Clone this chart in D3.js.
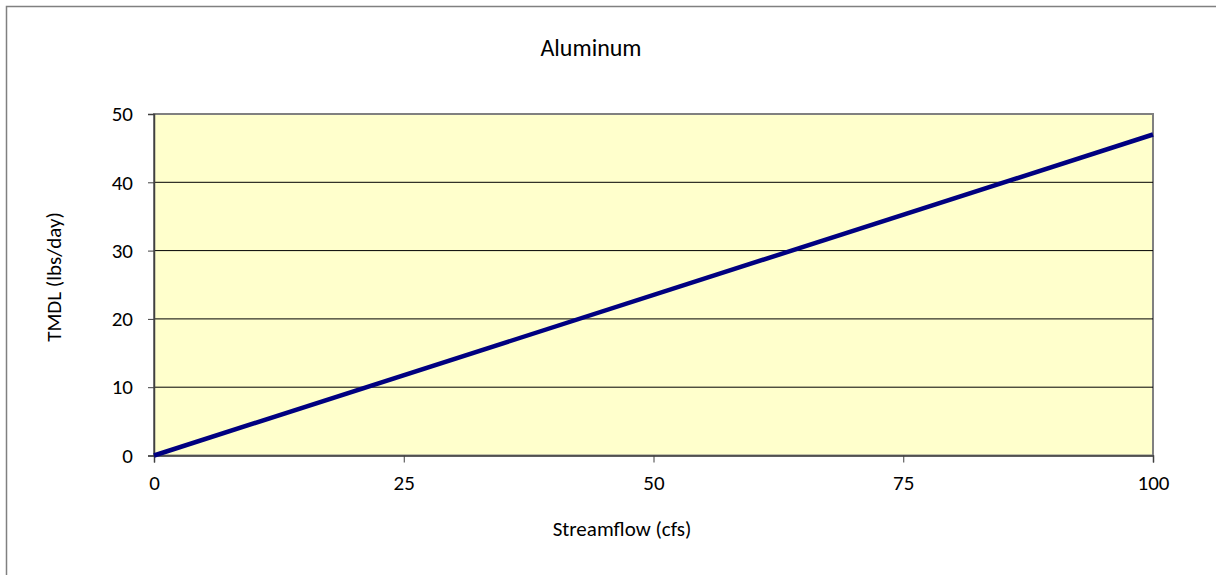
<!DOCTYPE html>
<html>
<head>
<meta charset="utf-8">
<script src="https://cdn.jsdelivr.net/npm/d3@7"></script>
<style>
  body { margin: 0; background: #fff; }
  text { font-family: Carlito, "Open Sans", "Noto Sans", sans-serif; fill: #000; }
</style>
</head>
<body>
<svg width="1216" height="575"></svg>
<script>
// chart data
var flow = [0, 100];
var tmdl = [0, 47];
var xTicks = [0, 25, 50, 75, 100];
var yTicks = [0, 10, 20, 30, 40, 50];

var svg = d3.select("svg");

// outer chart frame (right/bottom edge cropped off in the original)
svg.append("rect")
  .attr("x", 6.5).attr("y", 6.5)
  .attr("width", 1230).attr("height", 600)
  .attr("fill", "#fff")
  .attr("stroke", "#808080")
  .attr("stroke-width", 1.5);

var pLeft = 154, pRight = 1153, pTop = 114, pBottom = 455.5;

var x = d3.scaleLinear().domain([0, 100]).range([pLeft, pRight]);
var y = d3.scaleLinear().domain([0, 50]).range([pBottom, pTop]);

// plot background
svg.append("rect")
  .attr("x", pLeft).attr("y", pTop)
  .attr("width", pRight - pLeft).attr("height", pBottom - pTop)
  .attr("fill", "#ffffcc")
  .attr("stroke", "#808080")
  .attr("stroke-width", 2);

// gridlines
svg.append("g")
  .selectAll("line")
  .data(yTicks.filter(d => d > 0 && d < 50))
  .enter()
  .append("line")
  .attr("x1", pLeft).attr("x2", pRight)
  .attr("y1", d => y(d)).attr("y2", d => y(d))
  .attr("stroke", "#000")
  .attr("stroke-width", 1);

// axes
var yAxis = svg.append("g")
  .attr("transform", "translate(" + pLeft + ",0)")
  .call(d3.axisLeft(y).tickValues(yTicks).tickSize(6).tickPadding(15));
var xAxis = svg.append("g")
  .attr("transform", "translate(0," + pBottom + ")")
  .call(d3.axisBottom(x).tickValues(xTicks).tickSize(7).tickPadding(13));

[yAxis, xAxis].forEach(function (a) {
  a.attr("font-size", 21).attr("font-family", null);
  a.select(".domain").attr("stroke", "#404040").attr("stroke-width", 1.5);
  a.selectAll(".tick line").attr("stroke", "#404040");
  a.selectAll(".tick text").attr("fill", "#000");
});

// series line
var line = d3.line()
  .x((d, i) => x(flow[i]))
  .y(d => y(d));

svg.append("path")
  .datum(tmdl)
  .attr("d", line)
  .attr("fill", "none")
  .attr("stroke", "#000080")
  .attr("stroke-width", 4.5);

// titles
svg.append("text")
  .attr("x", 591).attr("y", 56)
  .attr("text-anchor", "middle")
  .attr("font-size", "24px")
  .text("Aluminum");

svg.append("text")
  .attr("x", 622).attr("y", 536)
  .attr("text-anchor", "middle")
  .attr("font-size", "21px")
  .text("Streamflow (cfs)");

svg.append("text")
  .attr("transform", "translate(61,277) rotate(-90)")
  .attr("text-anchor", "middle")
  .attr("font-size", "21px")
  .text("TMDL (lbs/day)");
</script>
</body>
</html>
